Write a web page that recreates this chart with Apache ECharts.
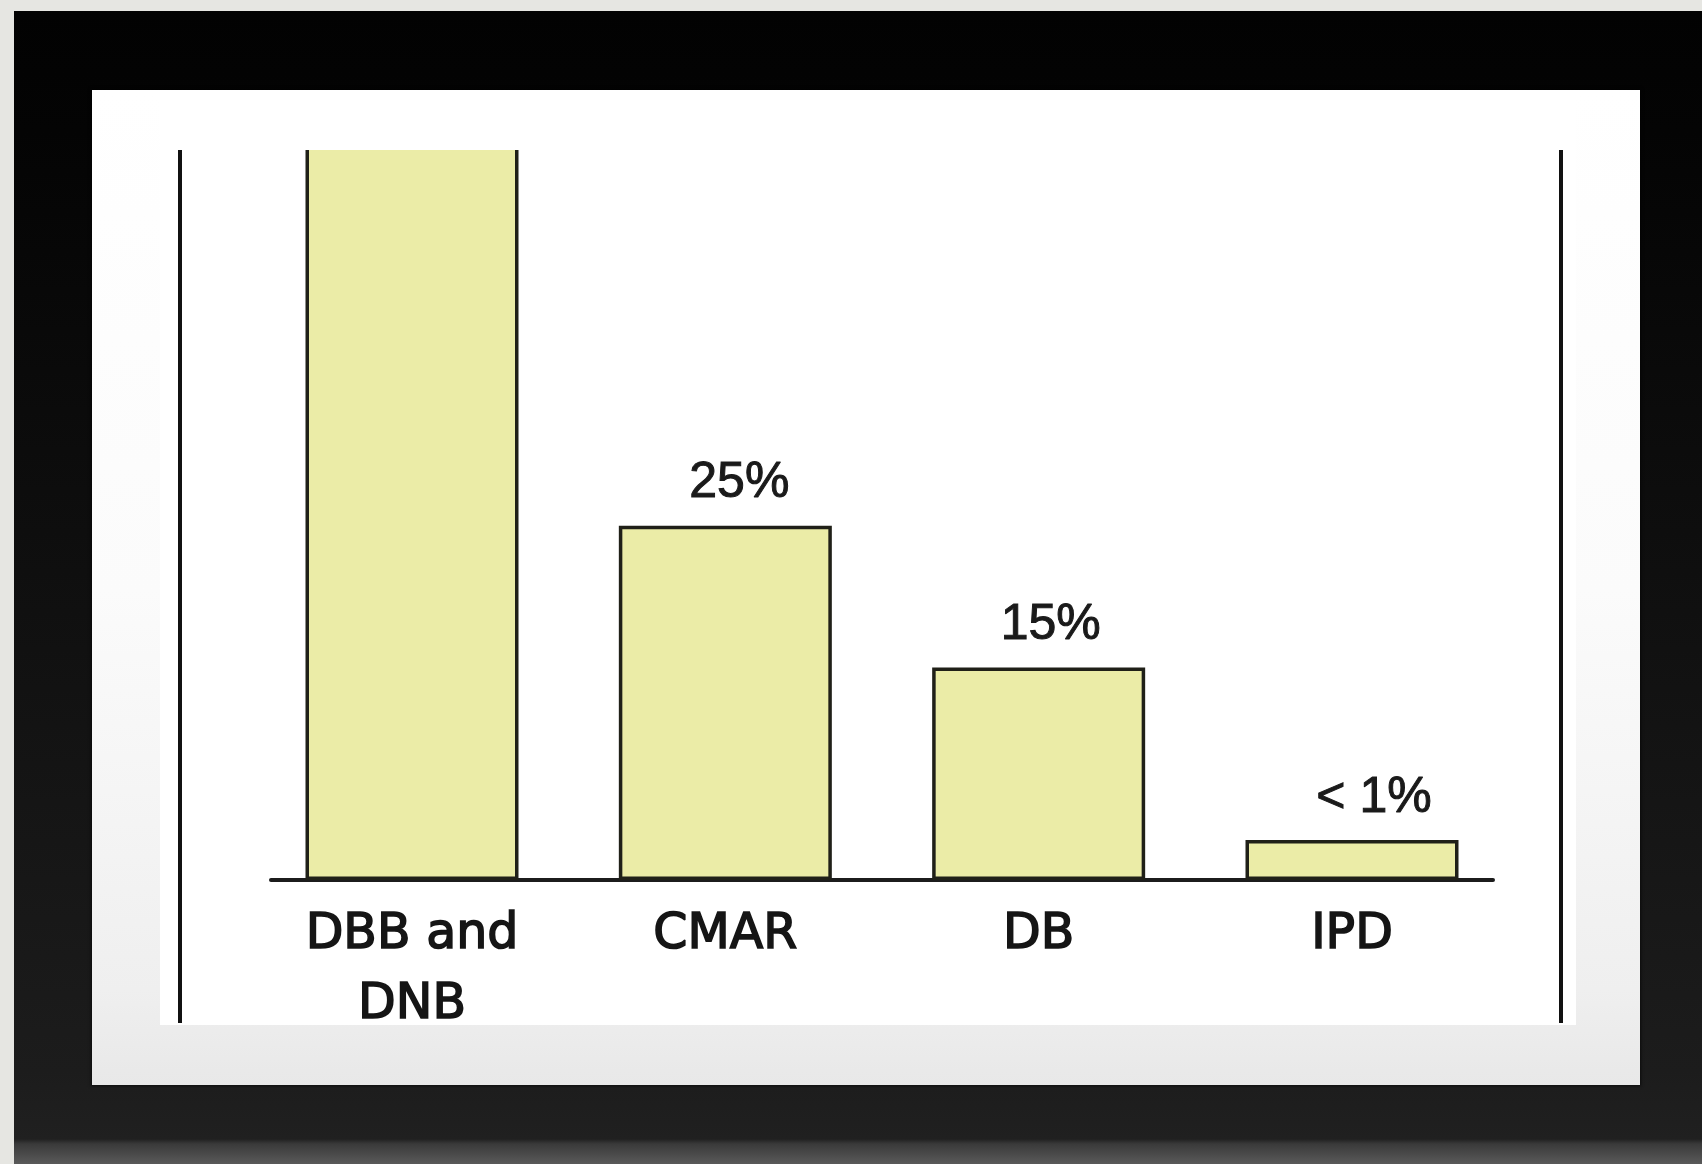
<!DOCTYPE html>
<html>
<head>
<meta charset="utf-8">
<title>Project delivery methods</title>
<script src="https://cdn.jsdelivr.net/npm/echarts@6/dist/echarts.min.js"></script>
<style>
  html, body { margin: 0; padding: 0; }
  body { width: 1702px; height: 1164px; overflow: hidden; background: #e6e6e2; position: relative; }
  /* picture frame */
  .frame {
    position: absolute; left: 14px; top: 11px; right: 0; bottom: 0;
    background: linear-gradient(to bottom, #020202 0px, #040404 120px, #101010 600px, #1c1c1c 1060px, #202020 1128px, #3a3a3a 1133px, #5a5a5a 1153px);
  }
  .mat {
    position: absolute; left: 92px; top: 90px; width: 1548px; height: 995px;
    background: linear-gradient(to bottom, #ffffff 0px, #fbfbfb 500px, #efefef 900px, #e8e8e8 995px);
    box-shadow: 0 0 3px 1px rgba(0,0,0,0.6);
  }
  .sheet {
    position: absolute; left: 160px; top: 92px; width: 1416px; height: 933px;
    background: #ffffff;
  }
  /* the plot sheet starts at the top of the two side rules; the tallest bar runs off its top edge */
  #chart { position: absolute; left: 0; top: 150px; width: 1702px; height: 1014px; }
</style>
</head>
<body>
<div class="frame"></div>
<div class="mat"></div>
<div class="sheet"></div>
<div id="chart"></div>
<script>
// Share of projects by delivery method
const categories = ['DBB and\nDNB', 'CMAR', 'DB', 'IPD'];
const shares = [60, 25, 15, 0.9];          // percent; DBB/DNB runs off the top of the plot
const valueLabels = ['', '25%', '15%', '< 1%'];
const labelShift = [0, 14, 12, 22];         // nudge of the value labels to the right

const chart = echarts.init(document.getElementById('chart'), null, { renderer: 'canvas' });

const barData = shares.map((v, i) => ({
  value: [i, v],
  label: { offset: [labelShift[i], 0] }
}));

chart.setOption({
  backgroundColor: 'transparent',
  animation: false,
  grid: { left: 271, top: 0, width: 1222, height: 730, containLabel: false },
  xAxis: {
    type: 'value',
    min: -0.45,
    max: 3.45,
    splitLine: { show: false },
    axisTick: { show: false },
    axisLine: { show: true, lineStyle: { color: '#1c1c1c', width: 4 } },
    axisLabel: {
      customValues: [0, 1, 2, 3],
      formatter: (v) => categories[Math.round(v)] || '',
      margin: 20,
      fontFamily: 'DejaVu Sans',
      fontSize: 49,
      lineHeight: 70,
      color: '#151515',
      textBorderColor: '#151515',
      textBorderWidth: 1.6,
      align: 'center'
    }
  },
  yAxis: {
    type: 'value',
    min: 0,
    max: 51.5,
    show: false,
    splitLine: { show: false }
  },
  series: [{
    type: 'bar',
    data: barData,
    barWidth: 213,
    barMinHeight: 40,
    clip: false,
    itemStyle: { color: '#ebeca7', borderColor: '#202018', borderWidth: 3.5 },
    label: {
      show: true,
      position: 'top',
      distance: 17,
      formatter: (p) => valueLabels[p.dataIndex],
      fontFamily: 'Liberation Sans',
      fontSize: 50,
      color: '#1a1a1a',
      textBorderColor: '#1a1a1a',
      textBorderWidth: 1
    }
  }],
  graphic: [
    { type: 'line', shape: { x1: 180, y1: 0, x2: 180, y2: 873 }, style: { stroke: '#111', lineWidth: 4 } },
    { type: 'line', shape: { x1: 1561, y1: 0, x2: 1561, y2: 873 }, style: { stroke: '#111', lineWidth: 4 } }
  ]
});
</script>
</body>
</html>
